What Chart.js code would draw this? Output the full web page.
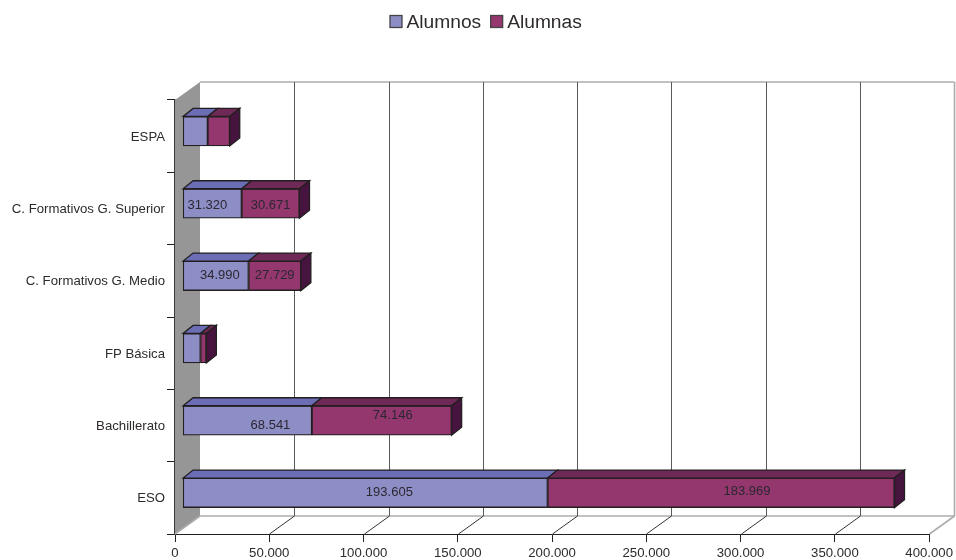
<!DOCTYPE html>
<html>
<head>
<meta charset="utf-8">
<title>Alumnos y alumnas</title>
<style>
  html, body { margin: 0; padding: 0; background: #fff; }
  #wrap { width: 956px; height: 560px; }
</style>
</head>
<body>
<div id="wrap"><canvas id="grafico" width="956" height="560"></canvas></div>
<script src="https://cdn.jsdelivr.net/npm/chart.js@4/dist/chart.umd.min.js"></script>
<script>
var categorias = ["ESPA", "C. Formativos G. Superior", "C. Formativos G. Medio", "FP Básica", "Bachillerato", "ESO"];
var alumnos = [13300, 31320, 34990, 9500, 68541, 193605];
var alumnas = [11700, 30671, 27729, 3100, 74146, 183969];

// only these bars carry a printed value in the picture
var conEtiqueta = [false, true, true, false, true, true];
// the value labels are not centred in the original, so nudge them
var nudgeAlumnos = [[0, 0], [-5, 2], [4, 0], [0, 0], [23, 5], [24, 0]];
var nudgeAlumnas = [[0, 0], [0, 2], [0, 0], [0, 0], [11, -5], [26, -1]];

var FUENTE = '"Liberation Sans", Arial, sans-serif';
var TINTA = "#231f20";
var TEXTO = "#2e2a2b";

// depth of the box (wall offset) and of the bars
var FONDO_X = 25, FONDO_Y = 18;
var BARRA_X = 7.6, BARRA_Y = 5;
var CARA_X = 10, CARA_Y = 8;

function puntos(value) {
  return String(value).replace(/\B(?=(\d{3})+(?!\d))/g, ".");
}

function poly(ctx, pts, fill, stroke) {
  ctx.beginPath();
  ctx.moveTo(pts[0][0], pts[0][1]);
  for (var i = 1; i < pts.length; i++) ctx.lineTo(pts[i][0], pts[i][1]);
  ctx.closePath();
  if (fill) { ctx.fillStyle = fill; ctx.fill(); }
  if (stroke) { ctx.strokeStyle = stroke; ctx.lineWidth = 1.3; ctx.stroke(); }
}

function linea(ctx, x1, y1, x2, y2, color, ancho) {
  ctx.beginPath();
  ctx.moveTo(x1, y1);
  ctx.lineTo(x2, y2);
  ctx.strokeStyle = color;
  ctx.lineWidth = ancho || 1;
  ctx.stroke();
}

var caja3d = {
  id: "caja3d",
  beforeDatasetsDraw: function (chart) {
    var ctx = chart.ctx, a = chart.chartArea, sx = chart.scales.x;
    ctx.save();
    // left wall
    poly(ctx, [[a.left, a.top], [a.left + FONDO_X, a.top - FONDO_Y],
               [a.left + FONDO_X, a.bottom - FONDO_Y], [a.left, a.bottom]], "#969696");
    var der = Math.round(a.right) + 0.5;
    var gris = "#acacac";
    linea(ctx, a.left + FONDO_X, a.top - FONDO_Y, der + FONDO_X, a.top - FONDO_Y, gris, 1.6);
    linea(ctx, der + FONDO_X, a.top - FONDO_Y, der + FONDO_X, a.bottom - FONDO_Y, gris, 1.6);
    linea(ctx, a.left, a.bottom, a.left + FONDO_X, a.bottom - FONDO_Y, gris, 1.6);
    linea(ctx, der, a.bottom, der + FONDO_X, a.bottom - FONDO_Y, gris, 1.6);
    linea(ctx, a.left + FONDO_X, a.bottom - FONDO_Y, der + FONDO_X, a.bottom - FONDO_Y, gris, 1.6);
    // back wall grid and floor diagonals
    sx.ticks.forEach(function (t) {
      var x = Math.round(sx.getPixelForValue(t.value)) + 0.5;
      if (t.value > 0 && t.value < sx.max) {
        linea(ctx, x + FONDO_X, a.top - FONDO_Y, x + FONDO_X, a.bottom - FONDO_Y, "#5a5a5a");
        linea(ctx, x, a.bottom, x + FONDO_X, a.bottom - FONDO_Y, "#333333");
      }
    });
    ctx.restore();

    // bars sit a little inside the box; closed again in afterDatasetsDraw
    ctx.save();
    ctx.translate(BARRA_X, -BARRA_Y);
  },
  afterDatasetsDraw: function (chart) {
    var ctx = chart.ctx;
    var caras = [
      { meta: chart.getDatasetMeta(0), techo: "#6b6db5", nudge: nudgeAlumnos },
      { meta: chart.getDatasetMeta(1), techo: "#6f2956", lado: "#47133f", nudge: nudgeAlumnas }
    ];
    caras.forEach(function (c) {
      c.meta.data.forEach(function (bar) {
        var p = bar.getProps(["x", "y", "base", "height"], true);
        var x1 = p.base, x2 = p.x, arriba = p.y - p.height / 2, abajo = p.y + p.height / 2;
        poly(ctx, [[x1, arriba], [x2, arriba], [x2 + CARA_X, arriba - CARA_Y], [x1 + CARA_X, arriba - CARA_Y]], c.techo, TINTA);
        if (c.lado) {
          poly(ctx, [[x2, arriba], [x2 + CARA_X, arriba - CARA_Y], [x2 + CARA_X, abajo - CARA_Y], [x2, abajo]], c.lado, TINTA);
        }
      });
    });
    ctx.font = "13px " + FUENTE;
    ctx.textAlign = "center";
    ctx.textBaseline = "middle";
    ctx.fillStyle = "#2b2730";
    caras.forEach(function (c, d) {
      var valores = chart.data.datasets[d].data;
      c.meta.data.forEach(function (bar, i) {
        if (!conEtiqueta[i]) return;
        var p = bar.getProps(["x", "y", "base"], true);
        ctx.fillText(puntos(valores[i]), (p.base + p.x) / 2 + c.nudge[i][0], p.y + c.nudge[i][1]);
      });
    });
    ctx.restore();
  },
  afterDraw: function (chart) {
    // legend: built-in one cannot keep the swatch this close to the text
    var ctx = chart.ctx, x = 389.5;
    ctx.save();
    ctx.font = "19.2px " + FUENTE;
    ctx.textAlign = "left";
    ctx.textBaseline = "middle";
    chart.data.datasets.forEach(function (ds) {
      ctx.fillStyle = ds.backgroundColor;
      ctx.strokeStyle = "#444";
      ctx.lineWidth = 1.3;
      ctx.fillRect(x + 0.5, 15.5, 12, 12);
      ctx.strokeRect(x + 0.5, 15.5, 12, 12);
      ctx.fillStyle = TEXTO;
      ctx.fillText(ds.label, x + 17, 22.5);
      x += 17 + ctx.measureText(ds.label).width + 9;
    });
    ctx.restore();
  }
};

new Chart(document.getElementById("grafico").getContext("2d"), {
  type: "bar",
  data: {
    labels: categorias,
    datasets: [
      { label: "Alumnos", data: alumnos, backgroundColor: "#8e8ec6" },
      { label: "Alumnas", data: alumnas, backgroundColor: "#94376e" }
    ]
  },
  options: {
    indexAxis: "y",
    responsive: false,
    animation: false,
    layout: { autoPadding: false, padding: { left: 0, right: 25.3, top: 100, bottom: 0 } },
    datasets: { bar: { barThickness: 29.5, borderColor: TINTA, borderWidth: 1.3, borderSkipped: false } },
    plugins: { legend: { display: false }, tooltip: { enabled: false } },
    scales: {
      x: {
        stacked: true,
        min: 0,
        max: 400000,
        afterFit: function (scale) { scale.height = 26; },
        grid: { drawOnChartArea: false, tickLength: 8, color: TINTA },
        border: { color: TINTA },
        ticks: {
          stepSize: 50000,
          maxRotation: 0,
          padding: 3,
          color: TEXTO,
          font: { family: FUENTE, size: 13.2 },
          callback: function (v) { return puntos(v); }
        }
      },
      y: {
        stacked: true,
        afterFit: function (scale) { scale.width = 175; },
        grid: { drawOnChartArea: false, tickLength: 8, color: TINTA, offset: true },
        border: { color: "#3a3a3a", width: 1.6 },
        ticks: { padding: 2, labelOffset: 1, color: TEXTO, font: { family: FUENTE, size: 13.2 } }
      }
    }
  },
  plugins: [caja3d]
});
</script>
</body>
</html>
